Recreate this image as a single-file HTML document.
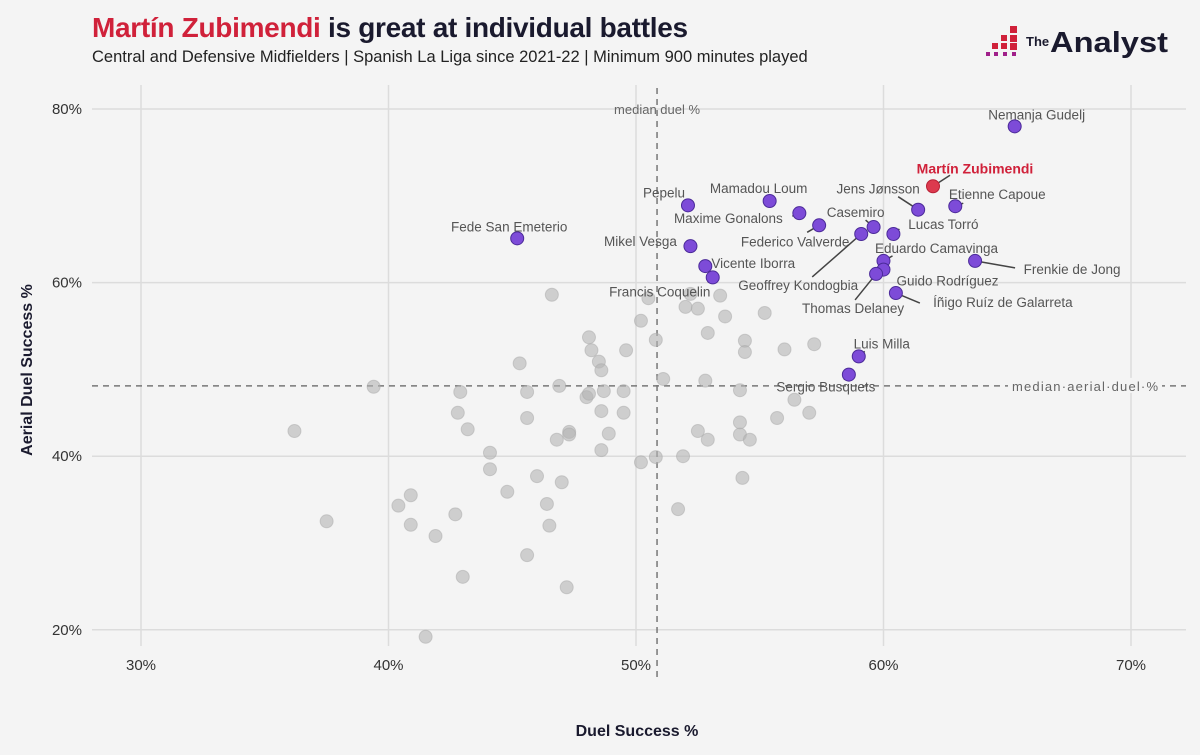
<!DOCTYPE html>
<html><head><meta charset="utf-8">
<style>
body{margin:0;background:#f4f4f4;}
#wrap{position:relative;width:1200px;height:755px;background:#f4f4f4;font-family:"Liberation Sans",sans-serif;overflow:hidden;}
#title{position:absolute;left:92px;top:12px;font-size:28px;font-weight:bold;color:#1a1a2e;margin:0;letter-spacing:-0.3px}
#title span{color:#d0213a}
#subtitle{position:absolute;left:92px;top:48px;font-size:16.5px;color:#222;}
#logo{position:absolute;left:984px;top:24px;}
svg text{font-family:"Liberation Sans",sans-serif;}
</style></head><body>
<div id="wrap">
<h1 id="title"><span>Martín Zubimendi</span> is great at individual battles</h1>
<div id="subtitle">Central and Defensive Midfielders | Spanish La Liga since 2021-22 | Minimum 900 minutes played</div>
<div id="logo">
<svg width="200" height="36">
<g fill="#d0213a"><rect x="26" y="2" width="7" height="7"/><rect x="26" y="11" width="7" height="7"/><rect x="17" y="11" width="6" height="6"/><rect x="8" y="19" width="6" height="6"/><rect x="17" y="19" width="6" height="6"/><rect x="26" y="19" width="7" height="7"/></g>
<g fill="#a0208a"><rect x="2" y="28" width="4" height="4"/><rect x="10" y="28" width="4" height="4"/><rect x="19" y="28" width="4" height="4"/><rect x="28" y="28" width="4" height="4"/></g>
<text x="42" y="22" font-size="13" font-weight="bold" fill="#1a1a2e">The</text>
<text x="66" y="28" font-size="29" font-weight="bold" fill="#1a1a2e" textLength="118" lengthAdjust="spacingAndGlyphs">Analyst</text>
</svg></div>
<svg id="chart" width="1200" height="755" style="position:absolute;left:0;top:0"></svg>
</div>
<script>
const xTicks=[30,40,50,60,70];
const yTicks=[20,40,60,80];
const greyX=[36.2,37.5,39.4,40.4,40.9,40.9,41.9,42.7,42.9,42.8,43.2,43.0,41.5,44.1,44.1,44.8,45.3,45.6,45.6,45.6,46.0,46.4,46.5,46.6,46.9,46.8,47.0,47.3,47.3,47.2,48.0,48.1,48.1,48.2,48.5,48.6,48.6,48.6,48.7,48.9,49.5,49.6,49.5,50.2,50.2,50.8,51.1,50.8,50.5,51.7,51.9,52.0,52.2,52.5,52.5,52.8,52.9,52.9,53.4,53.6,54.4,54.4,54.2,54.2,54.2,54.3,54.6,55.2,55.7,56.0,56.4,57.0,57.2];
const greyY=[42.9,32.5,48.0,34.3,35.5,32.1,30.8,33.3,47.4,45.0,43.1,26.1,19.2,40.4,38.5,35.9,50.7,44.4,47.4,28.6,37.7,34.5,32.0,58.6,48.1,41.9,37.0,42.8,42.5,24.9,46.8,47.2,53.7,52.2,50.9,49.9,40.7,45.2,47.5,42.6,47.5,52.2,45.0,55.6,39.3,53.4,48.9,39.9,58.2,33.9,40.0,57.2,58.7,57.0,42.9,48.7,54.2,41.9,58.5,56.1,53.3,52.0,47.6,42.5,43.9,37.5,41.9,56.5,44.4,52.3,46.5,45.0,52.9];
const names=["Nemanja Gudelj","Martín Zubimendi","Jens Jønsson","Etienne Capoue","Pepelu","Mamadou Loum","Maxime Gonalons","Casemiro","Federico Valverde","Lucas Torró","Geoffrey Kondogbia","Fede San Emeterio","Mikel Vesga","Eduardo Camavinga","Vicente Iborra","Guido Rodríguez","Thomas Delaney","Frenkie de Jong","Francis Coquelin","Íñigo Ruíz de Galarreta","Luis Milla","Sergio Busquets"];
const duelPct=[65.3,62.0,61.4,62.9,52.1,55.4,56.6,59.6,57.4,60.4,59.1,45.2,52.2,60.0,52.8,60.0,59.7,63.7,53.1,60.5,59.0,58.6];
const aerialPct=[78.0,71.1,68.4,68.8,68.9,69.4,68.0,66.4,66.6,65.6,65.6,65.1,64.2,62.5,61.9,61.5,61.0,62.5,60.6,58.8,51.5,49.4];
const medianDuel=50.85, medianAerial=48.1;
// label text offset (dx,dy) and leader end offset (lx,ly) from point; null = no leader
const labOff=[[22,-7,null],[42,-13,[17,-11]],[-40,-16,[-20,-13]],[42,-7,[8,-3]],[-24,-8,null],[-11,-8,null],[-71,10,[-7,3]],[-18,-10,[-8,-7]],[-24,21,[-12,7]],[50,-5,[6,-5]],[-63,56,[-49,43]],[-8,-7,null],[-50,0,[-6,-3]],[53,-8,[9,-5]],[48,2,null],[64,16,[4,5]],[-23,39,[-21,26]],[97,13,[40,7]],[-53,19,[-5,5]],[107,14,[24,10]],[23,-8,[6,-5]],[-23,17,[-5,5]]];
const NS='http://www.w3.org/2000/svg';
const svg=document.getElementById('chart');
const X0=141,XS=24.75,Y0=109,YS=8.68;
const sx=v=>X0+(v-30)*XS, sy=v=>Y0+(80-v)*YS;
function mk(t,a,p){const e=document.createElementNS(NS,t);for(const k in a)e.setAttribute(k,a[k]);(p||svg).appendChild(e);return e;}
xTicks.forEach(t=>{
 const l=mk('line',{x1:sx(t),x2:sx(t),y1:85,y2:646,stroke:'#dcdcdc','stroke-width':1.5});
 
 
 const tx=mk('text',{x:sx(t),y:670,'text-anchor':'middle','font-size':15,fill:'#333'});tx.textContent=t+'%';
 
 
});
yTicks.forEach(t=>{
 const l=mk('line',{x1:92,x2:1186,y1:sy(t),y2:sy(t),stroke:'#dcdcdc','stroke-width':1.5});
 
 
 const tx=mk('text',{x:82,y:sy(t)+5,'text-anchor':'end','font-size':15,fill:'#333'});tx.textContent=t+'%';
 
 
});
const vm=mk('line',{x1:sx(medianDuel),x2:sx(medianDuel),y1:88,y2:680,stroke:'#777','stroke-width':1.5,'stroke-dasharray':'6,5'});


const hm=mk('line',{x1:92,x2:1186,y1:sy(medianAerial),y2:sy(medianAerial),stroke:'#777','stroke-width':1.5,'stroke-dasharray':'6,5'});


const t1=mk('text',{x:sx(medianDuel),y:114,'text-anchor':'middle','font-size':13,fill:'#666'});t1.textContent='median duel %';


mk('rect',{x:1008,y:sy(medianAerial)-8,width:154,height:15,fill:'#f4f4f4'});
const t2=mk('text',{x:1012,y:sy(medianAerial)+5,'font-size':13,fill:'#666',textLength:146});t2.textContent='median·aerial·duel·%';


greyX.forEach((v,i)=>{
 const c=mk('circle',{cx:sx(v),cy:sy(greyY[i]),r:6.5,fill:'#b4b4b4','fill-opacity':0.6,stroke:'#aaa','stroke-opacity':0.5});
 
 
});
names.forEach((n,i)=>{
 const px=sx(duelPct[i]),py=sy(aerialPct[i]);const L=labOff[i];
 if(L[2]){const ln=mk('line',{x1:px,y1:py,x2:px+L[2][0],y2:py+L[2][1],stroke:'#444','stroke-width':1.5});
  
  }
 const red=i===1;
 const c=mk('circle',{cx:px,cy:py,r:6.5,fill:red?'#dc3a4e':'#7d4bd8',stroke:red?'#b82035':'#4b2a99','stroke-width':1});
 
 
 const t=mk('text',{x:px+L[0],y:py+L[1],'text-anchor':'middle','font-size':red?14:13.5,'font-weight':red?'bold':'normal',fill:red?'#d0213a':'#555'});t.textContent=n;
 
 
});
const xt=mk('text',{x:637,y:736,'text-anchor':'middle','font-size':16,'font-weight':'bold',fill:'#1a1a2e'});xt.textContent='Duel Success %';


const yt=mk('text',{x:0,y:0,'text-anchor':'middle','font-size':16,'font-weight':'bold',fill:'#1a1a2e',transform:'translate(32,370) rotate(-90)'});yt.textContent='Aerial Duel Success %';


</script>
</body></html>
